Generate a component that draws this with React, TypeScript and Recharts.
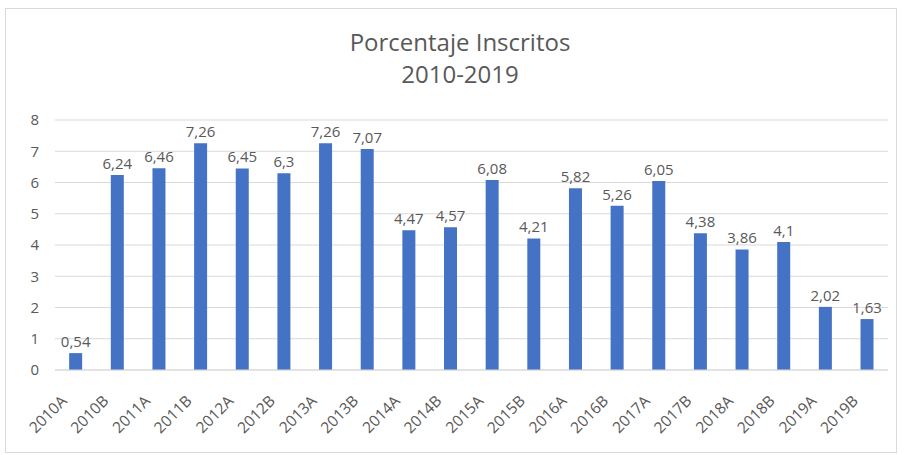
import { BarChart, Bar, XAxis, YAxis, CartesianGrid, LabelList } from "recharts"

const periods = [
  "2010A", "2010B", "2011A", "2011B", "2012A", "2012B", "2013A", "2013B", "2014A", "2014B",
  "2015A", "2015B", "2016A", "2016B", "2017A", "2017B", "2018A", "2018B", "2019A", "2019B",
]
const inscritos = [
  0.54, 6.24, 6.46, 7.26, 6.45, 6.3, 7.26, 7.07, 4.47, 4.57,
  6.08, 4.21, 5.82, 5.26, 6.05, 4.38, 3.86, 4.1, 2.02, 1.63,
]
const yTicks = [0, 1, 2, 3, 4, 5, 6, 7, 8]

const data = periods.map((p, i) => ({ period: p, value: inscritos[i] }))

const FONT = "'Open Sans', sans-serif"
const TEXT = "#595959"

function formatComma(v: number) {
  return String(v).replace(".", ",")
}

interface TickProps {
  x?: number
  y?: number
  payload?: { value: string }
}

function RotatedTick({ x = 0, y = 0, payload }: TickProps) {
  const tx = x - 8
  const ty = y + 24
  return (
    <text
      x={tx}
      y={ty}
      transform={`rotate(-45, ${tx}, ${ty})`}
      textAnchor="end"
      fill={TEXT}
      fontSize={15.5}
      fontFamily={FONT}
    >
      {payload?.value}
    </text>
  )
}

export default function App() {
  return (
    <div style={{ position: "absolute", left: 0, top: 0, width: 904, height: 455, background: "#fff" }}>
      <div style={{
        position: "absolute", left: 5, top: 8, width: 892, height: 445,
        border: "1px solid #d9d9d9", boxSizing: "border-box",
      }} />
      <div style={{
        position: "absolute", left: 0, top: 26, width: 920, textAlign: "center",
        fontFamily: FONT, fontSize: 24, color: TEXT, lineHeight: "32px",
      }}>
        Porcentaje Inscritos<br />2010-2019
      </div>
      <BarChart
        width={904}
        height={455}
        data={data}
        margin={{ top: 120, right: 16, bottom: 0, left: 0 }}
        barCategoryGap="34%"
        style={{ position: "absolute", left: 0, top: 0 }}
      >
        <CartesianGrid vertical={false} stroke="#d9d9d9" />
        <XAxis
          dataKey="period"
          interval={0}
          height={85}
          tick={<RotatedTick />}
          tickLine={false}
          axisLine={{ stroke: "#d9d9d9" }}
        />
        <YAxis
          domain={[0, 8]}
          ticks={yTicks}
          width={55}
          axisLine={false}
          tickLine={false}
          tick={{ fill: TEXT, fontSize: 15, fontFamily: FONT }}
          dx={-8}
        />
        <Bar dataKey="value" fill="#4472c4" isAnimationActive={false}>
          <LabelList
            dataKey="value"
            position="top"
            offset={6}
            formatter={(v: number) => formatComma(v)}
            fill={TEXT}
            fontSize={15}
            fontFamily={FONT}
          />
        </Bar>
      </BarChart>
    </div>
  )
}
